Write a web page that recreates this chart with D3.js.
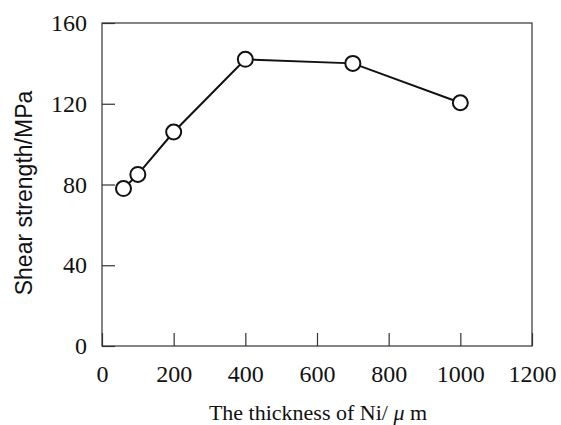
<!DOCTYPE html>
<html>
<head>
<meta charset="utf-8">
<script src="https://cdn.jsdelivr.net/npm/d3@7"></script>
<style>
  body { margin: 0; background: #fff; }
</style>
</head>
<body>
<div id="chart"></div>
<script>
const MARGINS = { left: 102, right: 29, top: 23, bottom: 79 };
const FRAME_WIDTH = 561;
const FRAME_HEIGHT = 425;
const VIS_WIDTH = FRAME_WIDTH - MARGINS.left - MARGINS.right;
const VIS_HEIGHT = FRAME_HEIGHT - MARGINS.top - MARGINS.bottom;

// data
const thickness = [60, 100, 200, 400, 700, 1000];
const shearStrength = [78, 85, 106, 142, 140, 120.5];
const xTicks = [0, 200, 400, 600, 800, 1000, 1200];
const yTicks = [0, 40, 80, 120, 160];

const SERIF = "'Liberation Serif', 'Times New Roman', serif";

const svg = d3.select("#chart")
  .append("svg")
  .attr("width", FRAME_WIDTH)
  .attr("height", FRAME_HEIGHT);

const X_SCALE = d3.scaleLinear().domain([0, 1200]).range([0, VIS_WIDTH]);
const Y_SCALE = d3.scaleLinear().domain([0, 160]).range([VIS_HEIGHT, 0]);

const g = svg.append("g")
  .attr("transform", "translate(" + MARGINS.left + "," + MARGINS.top + ")");

// frame
g.append("rect")
  .attr("x", 0).attr("y", 0)
  .attr("width", VIS_WIDTH).attr("height", VIS_HEIGHT)
  .attr("fill", "none")
  .attr("stroke", "#333")
  .attr("stroke-width", 1.2);

// x axis, ticks pointing inward
const xAxis = g.append("g")
  .attr("transform", "translate(0," + VIS_HEIGHT + ")")
  .call(d3.axisBottom(X_SCALE).tickValues(xTicks).tickFormat(d3.format("d"))
    .tickSize(-13).tickPadding(19));
xAxis.select(".domain").remove();
xAxis.selectAll("line").attr("stroke", "#333").attr("stroke-width", 1.2);
xAxis.selectAll("text")
  .style("font-family", SERIF)
  .style("font-size", "24px")
  .style("fill", "#111");

// y axis
const yAxis = g.append("g")
  .call(d3.axisLeft(Y_SCALE).tickValues(yTicks).tickSize(-13).tickPadding(15));
yAxis.select(".domain").remove();
yAxis.selectAll("line").attr("stroke", "#333").attr("stroke-width", 1.2);
yAxis.selectAll("text")
  .style("font-family", SERIF)
  .style("font-size", "24px")
  .style("fill", "#111");

// line
const line = d3.line()
  .x((d, i) => X_SCALE(thickness[i]))
  .y((d) => Y_SCALE(d));

g.append("path")
  .datum(shearStrength)
  .attr("d", line)
  .attr("fill", "none")
  .attr("stroke", "#111")
  .attr("stroke-width", 2);

g.selectAll(".pt")
  .data(shearStrength)
  .enter()
  .append("circle")
  .attr("class", "pt")
  .attr("cx", (d, i) => X_SCALE(thickness[i]))
  .attr("cy", (d) => Y_SCALE(d))
  .attr("r", 7.5)
  .attr("fill", "#fff")
  .attr("stroke", "#111")
  .attr("stroke-width", 2);

// axis titles
const xTitle = svg.append("text")
  .attr("x", 318)
  .attr("y", 420)
  .attr("text-anchor", "middle")
  .style("font-family", SERIF)
  .style("font-size", "22px")
  .style("fill", "#111");
xTitle.append("tspan").text("The thickness of Ni/ ");
xTitle.append("tspan").style("font-style", "italic").text("μ");
xTitle.append("tspan").text(" m");

svg.append("text")
  .attr("transform", "translate(32,193) rotate(-90)")
  .attr("text-anchor", "middle")
  .style("font-family", "'Liberation Sans', Arial, sans-serif")
  .style("font-size", "23px")
  .style("fill", "#111")
  .text("Shear strength/MPa");
</script>
</body>
</html>
